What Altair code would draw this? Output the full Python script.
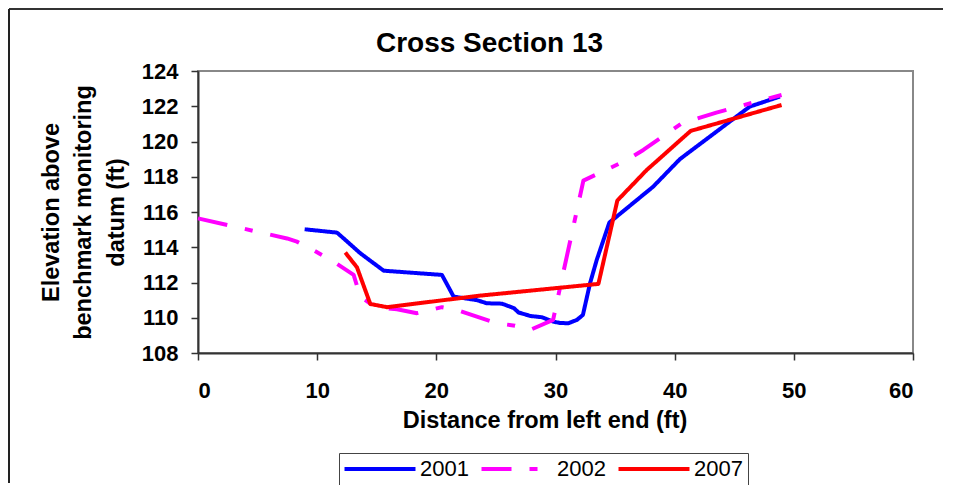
import altair as alt
import pandas as pd

years = ["2001", "2002", "2007"]
colors = ["#0000FF", "#FF00FF", "#FF0000"]

x_2001 = [8.95, 11.67, 13.62, 15.58, 20.47, 21.45, 23.4, 24.24, 25.5, 26.5, 26.9, 27.9, 28.85,
          29.8, 30.4, 31.1, 31.8, 32.3, 32.9, 33.46, 34.52, 38.2, 40.44, 46.3, 48.83]
y_2001 = [115.02, 114.83, 113.66, 112.67, 112.43, 111.2, 111.0, 110.82, 110.8, 110.55, 110.3, 110.1, 110.03,
          109.78, 109.7, 109.69, 109.88, 110.16, 111.96, 113.28, 115.4, 117.44, 119.0, 121.98, 122.55]

x_2002 = [0.0, 7.47, 8.3, 9.5, 11.39, 13.06, 13.62, 14.88, 16.7, 18.37, 20.47, 21.72, 23.4, 25.08,
          26.6, 27.87, 29.8, 30.6, 32.34, 36.0, 37.37, 40.6, 43.5, 46.87, 48.97]
y_2002 = [115.64, 114.5, 114.32, 113.9, 113.18, 112.43, 111.2, 110.6, 110.48, 110.26, 110.6, 110.44, 110.06, 109.69,
          109.55, 109.31, 109.88, 112.4, 117.78, 118.95, 119.52, 121.03, 121.64, 122.26, 122.64]

x_2007 = [12.36, 13.34, 14.46, 15.86, 23.6, 33.6, 35.19, 37.65, 41.34, 48.97]
y_2007 = [113.7, 112.86, 110.78, 110.6, 111.25, 111.92, 116.65, 118.38, 120.6, 122.07]

x_ticks = [0, 10, 20, 30, 40, 50, 60]
y_ticks = [108, 110, 112, 114, 116, 118, 120, 122, 124]

rows = []
for yr, xs, ys in zip(years, [x_2001, x_2002, x_2007], [y_2001, y_2002, y_2007]):
    for i, (a, b) in enumerate(zip(xs, ys)):
        rows.append({"year": yr, "x": a, "y": b, "order": i})
df = pd.DataFrame(rows)

FONT = "Liberation Sans"

legend = alt.Legend(
    title=None, orient="none", legendX=141, legendY=382, direction="horizontal", columns=3,
    symbolType="M-10,0H10", symbolSize=50.4, symbolStrokeWidth=4, symbolOffset=25,
    labelOffset=29, labelFont=FONT, labelFontSize=22, labelColor="black",
    strokeColor="#444444", fillColor="white", padding=5, columnPadding=4,
)

lines = alt.Chart(df).mark_line(strokeWidth=4, strokeJoin="round").encode(
    x=alt.X("x:Q", scale=alt.Scale(domain=[0, 60], nice=False),
            axis=alt.Axis(values=x_ticks, title="Distance from left end (ft)",
                          labelPadding=20, titleX=346.5, titleY=74,
                          titleBaseline="alphabetic", titleAlign="center")),
    y=alt.Y("y:Q", scale=alt.Scale(domain=[108, 124], nice=False, zero=False),
            axis=alt.Axis(values=y_ticks,
                          title=["Elevation above", "benchmark monitoring", "datum (ft)"],
                          labelPadding=13, titleX=-147, titleY=141, titleAngle=270,
                          titleBaseline="middle", titleAlign="center", titleLineHeight=32.5)),
    color=alt.Color("year:N", scale=alt.Scale(domain=years, range=colors), legend=legend),
    strokeDash=alt.StrokeDash("year:N", scale=alt.Scale(domain=years, range=[[1, 0], [30, 18, 8, 18], [1, 0]]),
                              legend=legend),
    order="order:Q",
)

frame_df = pd.DataFrame({"k": [0]})
top_border = alt.Chart(frame_df).mark_rule(color="#333333", strokeWidth=2).encode(
    x=alt.value(-189), x2=alt.value(745), y=alt.value(-62))
left_border = alt.Chart(frame_df).mark_rule(color="#222222", strokeWidth=2).encode(
    x=alt.value(-189), y=alt.value(-62), y2=alt.value(412))

chart = alt.layer(top_border, left_border, lines).properties(
    width=715, height=282,
    autosize=alt.AutoSizeParams(type="none"),
    padding={"left": 190, "top": 63, "right": 30, "bottom": 132},
    title=alt.Title("Cross Section 13", font=FONT, fontSize=28, fontWeight="bold", color="black",
                    anchor="middle", dx=-66, offset=-72, baseline="alphabetic"),
).configure_view(stroke="#888888", strokeWidth=2).configure_axis(
    domainColor="#333333", domainWidth=2, tickColor="#333333", tickWidth=1.5, tickSize=7,
    labelFont=FONT, labelFontSize=22, labelFontWeight="bold", labelColor="black",
    titleFont=FONT, titleFontSize=23.5, titleFontWeight="bold", titleColor="black", grid=False,
)

chart.save("out.html", embed_options={"renderer": "svg", "actions": False})
